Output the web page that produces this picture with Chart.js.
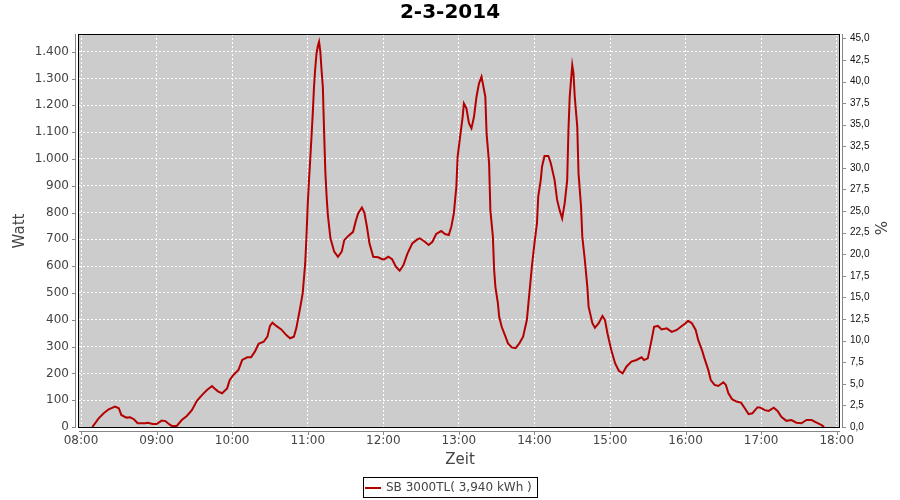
<!DOCTYPE html>
<html>
<head>
<meta charset="utf-8">
<script src="https://cdn.jsdelivr.net/npm/chart.js@4.4.1/dist/chart.umd.min.js"></script>
<style>
  html, body { margin: 0; padding: 0; background: #fff; }
  #wrap { width: 900px; height: 500px; }
</style>
</head>
<body>
<div id="wrap"><canvas id="chart" width="900" height="500"></canvas></div>
<script>
const chartTitle = '2-3-2014';
const seriesLabel = 'SB 3000TL( 3,940 kWh )';
const xTitle = 'Zeit';
const yTitle = 'Watt';
const y2Title = '%';

// time of day in minutes since midnight
const times = [
  489, 494, 498, 502, 507, 510, 512, 516, 519, 522, 525, 531, 533, 537, 540,
  544, 547, 549, 552, 556, 560, 564, 568, 572, 576, 580, 584, 586, 589, 592,
  596, 598, 601, 605, 608, 612, 615, 618, 621, 625, 628, 630, 632, 635, 639,
  643, 646, 649, 651, 654, 656, 658, 659, 660, 661, 662, 663, 664, 665, 666,
  667, 668, 669, 670, 671, 672, 673, 674, 675, 676, 678, 681, 684, 687, 689,
  692, 696, 698, 700, 703, 705, 707, 709, 712, 716, 719, 721, 724, 727, 730,
  733, 736, 739, 743, 747, 749, 753, 756, 759, 762, 766, 769, 772, 774, 776,
  778, 779, 781, 783, 784, 786, 788, 790, 792, 794, 796, 798, 799, 801, 802,
  804, 805, 807, 808, 809, 811, 812, 814, 817, 819, 822, 825, 828, 831, 834,
  836, 838, 840, 842, 843, 845, 846, 848, 851, 853, 856, 858, 860, 862, 864,
  866, 867, 868, 870, 871, 872, 874, 875, 877, 878, 880, 882, 883, 886, 888,
  891, 894, 896, 898, 901, 904, 907, 910, 913, 917, 921, 925, 927, 930, 933,
  935, 938, 941, 945, 949, 953, 957, 960, 962, 965, 968, 970, 973, 975, 978,
  980, 983, 986, 990, 992, 994, 997, 1001, 1004, 1007, 1010, 1013, 1017, 1019, 1023,
  1026, 1030, 1033, 1036, 1040, 1044, 1048, 1052, 1056, 1060, 1064, 1068, 1070
];

const watts = [
  0, 32, 51, 66, 76, 70, 45, 35, 36, 29, 14, 14, 16, 11, 11,
  24, 22, 14, 4, 4, 26, 41, 63, 98, 119, 138, 153, 144, 132, 126,
  144, 175, 194, 213, 250, 260, 260, 281, 310, 318, 337, 377, 389, 377, 364,
  343, 331, 337, 370, 445, 499, 611, 710, 830, 920, 1000, 1083, 1170, 1270, 1340,
  1394, 1420, 1437, 1400, 1330, 1269, 1100, 950, 860, 790, 705, 654, 635, 654, 697,
  712, 728, 766, 797, 819, 799, 747, 685, 635, 633, 626, 626, 635, 626, 598,
  583, 604, 645, 685, 700, 704, 691, 679, 691, 720, 731, 720, 716, 747, 797,
  896, 1008, 1083, 1157, 1207, 1189, 1133, 1114, 1157, 1232, 1282, 1307, 1282, 1232, 1095,
  984, 809, 710, 586, 523, 461, 411, 374, 337, 312, 297, 294, 312, 337, 400,
  500, 600, 685, 760, 859, 921, 971, 1011, 1011, 984, 921, 847, 809, 778, 834,
  921, 1108, 1232, 1350, 1319, 1232, 1120, 946, 822, 710, 623, 523, 449, 387, 370,
  387, 414, 399, 349, 287, 238, 210, 200, 225, 244, 250, 260, 250, 256, 325,
  374, 377, 364, 368, 355, 362, 377, 387, 396, 387, 362, 325, 287, 256, 213,
  175, 157, 153, 167, 157, 126, 103, 94, 91, 70, 48, 51, 73, 73, 63,
  60, 72, 60, 38, 23, 26, 16, 14, 26, 26, 16, 7, 0
];

const hourTicks = [480, 540, 600, 660, 720, 780, 840, 900, 960, 1020, 1080];
const wattTicks = [0, 100, 200, 300, 400, 500, 600, 700, 800, 900, 1000, 1100, 1200, 1300, 1400];
const percentTicks = [0, 2.5, 5, 7.5, 10, 12.5, 15, 17.5, 20, 22.5, 25, 27.5, 30, 32.5, 35, 37.5, 40, 42.5, 45];

const lineColor = '#b40000';
const labelColor = '#444444';
const axisColor = '#888888';

function fmtTime(m) {
  const h = Math.floor(m / 60), mm = Math.round(m % 60);
  return String(h).padStart(2, '0') + ':' + String(mm).padStart(2, '0');
}
function fmtWatt(v) {
  return String(v).replace(/\B(?=(\d{3})+(?!\d))/g, '.');
}
function fmtPercent(v) {
  return v.toFixed(1).replace('.', ',');
}
function setTicks(values) {
  return scale => { scale.ticks = values.map(v => ({ value: v })); };
}

const decor = {
  id: 'decor',
  beforeDraw(chart) {
    const { ctx, chartArea: a } = chart;
    ctx.save();
    ctx.fillStyle = '#ffffff';
    ctx.fillRect(0, 0, chart.width, chart.height);
    ctx.fillStyle = '#cccccc';
    ctx.fillRect(a.left, a.top, a.right - a.left, a.bottom - a.top);
    ctx.restore();
  },
  beforeDatasetsDraw(chart) {
    const { ctx, chartArea: a } = chart;
    ctx.save();
    ctx.strokeStyle = '#000';
    ctx.lineWidth = 1;
    ctx.strokeRect(a.left - 0.5, a.top + 0.5, a.right - a.left + 1, a.bottom - a.top);
    ctx.restore();
  },
  afterDraw(chart) {
    const { ctx, chartArea: a, scales } = chart;
    ctx.save();
    // axis lines, offset from the plot
    ctx.strokeStyle = axisColor;
    ctx.lineWidth = 1;
    ctx.beginPath();
    ctx.moveTo(a.left - 3.5, a.top); ctx.lineTo(a.left - 3.5, a.bottom + 1);
    ctx.moveTo(a.left, a.bottom + 4.5); ctx.lineTo(a.right + 1, a.bottom + 4.5);
    ctx.moveTo(a.right + 3.5, a.top); ctx.lineTo(a.right + 3.5, a.bottom + 1);
    scales.y.ticks.forEach(t => {
      const y = Math.round(scales.y.getPixelForValue(t.value)) + 0.5;
      ctx.moveTo(a.left - 7, y); ctx.lineTo(a.left - 3, y);
    });
    scales.y1.ticks.forEach(t => {
      const y = Math.round(scales.y1.getPixelForValue(t.value)) + 0.5;
      ctx.moveTo(a.right + 3, y); ctx.lineTo(a.right + 7, y);
    });
    scales.x.ticks.forEach(t => {
      const x = Math.round(scales.x.getPixelForValue(t.value)) + 0.5;
      ctx.moveTo(x, a.bottom + 4); ctx.lineTo(x, a.bottom + 8);
    });
    ctx.stroke();

    // title
    ctx.fillStyle = '#000';
    ctx.textAlign = 'center';
    ctx.textBaseline = 'middle';
    ctx.font = 'bold 20px "DejaVu Sans"';
    ctx.fillText(chartTitle, 450, 13);

    // axis titles
    ctx.fillStyle = labelColor;
    ctx.font = '15px "DejaVu Sans"';
    ctx.fillText(xTitle, 460, 460);
    ctx.save();
    ctx.translate(20, 231);
    ctx.rotate(-Math.PI / 2);
    ctx.fillText(yTitle, 0, 0);
    ctx.restore();
    ctx.save();
    ctx.translate(883, 228);
    ctx.rotate(-Math.PI / 2);
    ctx.fillText(y2Title, 0, 0);
    ctx.restore();

    // legend
    ctx.strokeStyle = '#000';
    ctx.strokeRect(363.5, 477.5, 174, 20);
    ctx.strokeStyle = lineColor;
    ctx.lineWidth = 2;
    ctx.beginPath();
    ctx.moveTo(365, 488); ctx.lineTo(381, 488);
    ctx.stroke();
    ctx.fillStyle = labelColor;
    ctx.font = '12px "DejaVu Sans"';
    ctx.textAlign = 'left';
    ctx.fillText(chart.data.datasets[0].label, 386, 488);
    ctx.restore();
  }
};

new Chart(document.getElementById('chart'), {
  type: 'line',
  data: {
    datasets: [{
      label: seriesLabel,
      data: times.map((t, i) => ({ x: t, y: watts[i] })),
      borderColor: lineColor,
      borderWidth: 2,
      pointRadius: 0,
      tension: 0,
      fill: false,
      yAxisID: 'y'
    }]
  },
  options: {
    responsive: false,
    animation: false,
    devicePixelRatio: 1,
    layout: { padding: { top: 34, left: 0, right: 0, bottom: 0 } },
    plugins: {
      legend: { display: false },
      title: { display: false },
      tooltip: { enabled: false }
    },
    scales: {
      x: {
        type: 'linear',
        position: 'bottom',
        min: 478.4,
        max: 1081.8,
        afterBuildTicks: setTicks(hourTicks),
        afterFit: s => { s.height = 73; },
        ticks: {
          callback: v => fmtTime(v),
          font: { family: 'DejaVu Sans', size: 12 },
          color: labelColor,
          padding: 7,
          maxRotation: 0,
          autoSkip: false
        },
        grid: { color: '#ffffff', lineWidth: 1, drawTicks: false },
        border: { display: false, dash: [2, 2] }
      },
      y: {
        position: 'left',
        min: 0,
        max: 1466,
        afterBuildTicks: setTicks(wattTicks),
        afterFit: s => { s.width = 79; },
        ticks: {
          callback: v => fmtWatt(v),
          font: { family: 'DejaVu Sans', size: 12 },
          color: labelColor,
          padding: 10,
          autoSkip: false
        },
        grid: { color: '#ffffff', lineWidth: 1, drawTicks: false },
        border: { display: false, dash: [2, 2] }
      },
      y1: {
        position: 'right',
        min: 0,
        max: 45.5,
        afterBuildTicks: setTicks(percentTicks),
        afterFit: s => { s.width = 61; },
        ticks: {
          callback: v => fmtPercent(v),
          font: { family: 'Liberation Sans', size: 10 },
          color: '#111111',
          padding: 11,
          autoSkip: false
        },
        grid: { display: false, drawTicks: false },
        border: { display: false }
      }
    }
  },
  plugins: [decor]
});
</script>
</body>
</html>
